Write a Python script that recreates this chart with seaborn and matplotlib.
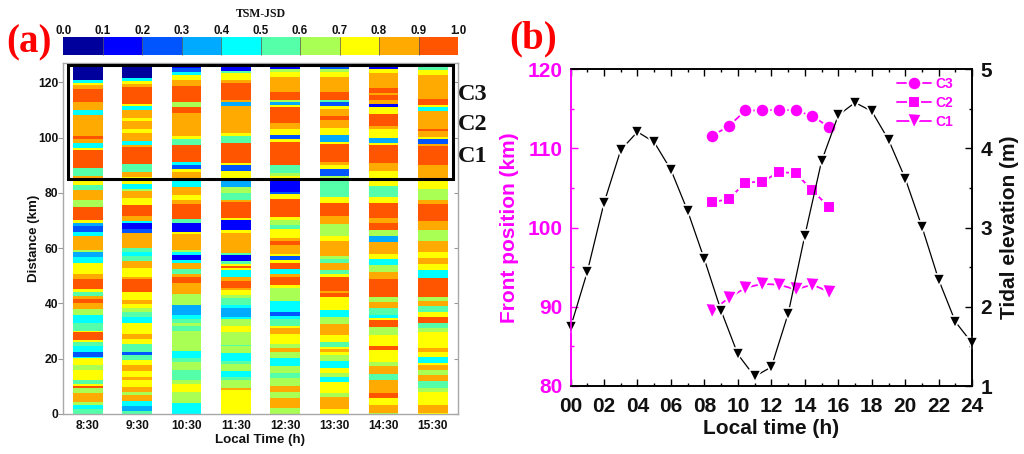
# -*- coding: utf-8 -*-
### TSM-JSD stripes along distance (a) and front position vs tide (b)

import numpy as np
import pandas as pd
import seaborn as sns
import matplotlib
matplotlib.use('Agg')
import matplotlib.pyplot as plt
from matplotlib.colors import ListedColormap
from matplotlib.patches import Rectangle

###############################################################################
### 1. Data

times = ['8:30', '9:30', '10:30', '11:30', '12:30', '13:30', '14:30', '15:30']

# every column: upper edge of each band (km, going down) and the TSM-JSD class of the band
top_0830 = [127, 121, 119.8, 119, 117.6, 113, 110, 108.2, 100.5, 99.5, 98, 96.3, 95.6, 89, 86.2, 84.2, 82.7, 81, 77.2, 75,
            70.3, 69.3, 68, 65.8, 64.6, 59.4, 58.6, 56.8, 54.4, 50.7, 48.8, 45.2, 44, 42.8, 41.7, 40, 38, 35.9, 33.1,
            30.1, 29.5, 26.7, 25.9, 24.8, 22.4, 20.8, 20.2, 17.8, 16, 12.3, 10.8, 10.3, 9.3, 7.5, 4.5, 3.3, 1.7]
val_0830 = [.05, .45, .75, .85, .95, .85, .45, .85, .95, .85, .45, .75, .95, .55, .85, .75, .55, .85, .65, .95,
            .75, .35, .25, .45, .85, .65, .35, .45, .75, .85, .95, .75, .55, .85, .95, .85, .65, .45, .55,
            .75, .95, .75, .55, .45, .25, .45, .75, .65, .75, .55, .75, .95, .65, .85, .65, .45, .55]

top_0930 = [127, 121.6, 120.4, 119.6, 118.2, 112.3, 111.6, 110, 107, 106, 102.9, 101.4, 98.7, 97.2, 96.4, 90.5, 87.4, 85.7, 83.2,
            81.4, 80.7, 78, 75.7, 71.5, 70, 69, 67, 65.5, 60, 58.8, 57, 55.5, 52.8, 49.8, 48.8, 44, 41.2, 39.8, 38.3,
            36.9, 35.3, 33.1, 29, 27.1, 25.5, 22.4, 21.4, 19.6, 17.8, 15.4, 13.3, 12.3, 9.8, 8.1, 6.7, 4.8, 2.7, 1.1]
val_0930 = [.05, .45, .75, .85, .95, .75, .45, .85, .75, .85, .75, .85, .45, .85, .95, .55, .85, .75, .45,
            .65, .85, .75, .95, .85, .45, .15, .25, .85, .55, .45, .55, .85, .75, .85, .95, .75, .85, .75, .65,
            .55, .45, .75, .85, .75, .55, .25, .55, .75, .85, .75, .85, .75, .85, .65, .85, .45, .35, .55]

top_1030 = [127, 125.2, 123.7, 122.7, 120.7, 118.6, 113, 111, 109, 100.5, 99.5, 97.6, 91.3, 90.3, 88.6, 87.4, 84.2, 82.1, 79.2,
            77.2, 76, 70.5, 69.3, 66.1, 64.9, 59.3, 58.6, 57.6, 55.8, 54.8, 52.4, 50.4, 49.4, 47.2, 43.4, 39.5, 36.1,
            34.3, 32.9, 31.9, 30.1, 22.8, 20.2, 18.7, 15.8, 12.3, 10.8, 8.1, 4]
val_1030 = [.15, .25, .45, .75, .85, .95, .65, .95, .85, .75, .55, .95, .45, .25, .75, .85, .45, .85, .75,
            .85, .95, .55, .15, .75, .85, .65, .45, .15, .45, .85, .55, .85, .95, .85, .65, .35, .45,
            .55, .65, .55, .65, .45, .55, .65, .55, .65, .75, .65, .45]

top_1130 = [127, 125.4, 124, 123.2, 120.7, 119.8, 113.5, 112.9, 111.4, 101.4, 100.5, 98, 90.8, 90, 87.8, 84.2, 82.1, 80, 77.3,
            76.7, 71.1, 70.3, 66.7, 65.6, 58.2, 57.4, 55.5, 54.3, 53.6, 52.8, 51.9, 49.8, 48.3, 45.6, 44.7, 43.1, 41.9,
            39.5, 38.5, 35.2, 34.3, 31.8, 29.6, 25, 24.4, 22.1, 19.2, 18, 15.4, 13.2, 12.2, 9.6, 8.7]
val_1130 = [.05, .15, .55, .75, .85, .95, .85, .35, .85, .75, .55, .95, .75, .25, .75, .35, .65, .55, .85,
            .95, .75, .15, .75, .85, .55, .15, .55, .75, .95, .75, .45, .85, .95, .85, .75, .65, .55,
            .45, .35, .45, .65, .75, .65, .55, .65, .45, .55, .65, .45, .55, .65, .85, .75]

top_1230 = [127, 125.8, 125, 123.7, 122, 116.5, 113.8, 113, 111.8, 111, 105.3, 103.3, 101.1, 99.4, 98.3, 90.2, 87.2, 86, 84.2,
            80.6, 79.4, 77.8, 71.3, 70.3, 68.5, 67, 63.7, 62.7, 61, 57.9, 57, 55.7, 54.8, 52.6, 50.4, 49.5, 46.8, 45.8, 41,
            36.9, 35.6, 34.4, 31.7, 31, 29, 25.6, 24, 22.4, 20.2, 17.2, 14.8, 13, 10, 8.1, 5.7, 2.3]
val_1230 = [.05, .15, .65, .75, .85, .95, .65, .35, .75, .95, .85, .75, .25, .75, .95, .55, .65, .75, .15,
            .25, .75, .95, .75, .65, .55, .75, .85, .95, .85, .75, .25, .75, .95, .45, .85, .95, .75, .65, .45,
            .25, .45, .55, .75, .85, .75, .65, .85, .65, .45, .65, .55, .65, .85, .65, .85, .65]

top_1330 = [127, 125.8, 124.8, 123.7, 122, 116.5, 113.4, 112.8, 111.4, 110.4, 108.1, 106.5, 103.5, 101.1, 98.3, 97.7, 91.2, 89.9, 88.6,
            86.2, 84.2, 78.5, 76.6, 71.5, 68.8, 67.5, 64.3, 62.5, 57, 56, 54.6, 52.2, 50.4, 49.4, 44.6, 43.7, 42.2, 37.7,
            35, 32.6, 28.6, 25.9, 24.2, 23.6, 22.4, 21.6, 19.2, 16.6, 14.8, 13.2, 11.5, 7.7, 6, 1.7]
val_1330 = [.05, .25, .65, .75, .85, .95, .55, .25, .75, .85, .95, .85, .75, .35, .75, .95, .85, .75, .25,
            .65, .55, .75, .95, .85, .65, .65, .75, .85, .65, .55, .85, .55, .75, .95, .85, .95, .75, .45,
            .65, .85, .75, .55, .75, .85, .75, .65, .45, .75, .65, .45, .75, .65, .85, .75]

top_1430 = [127, 125.6, 124.9, 123.4, 118.1, 116.2, 115.2, 113.4, 112.2, 111, 108.6, 104.3, 102.9, 100.1, 98, 97.5, 90.8, 87.8, 82.4,
            78.5, 76.3, 70.9, 69.1, 66.8, 64.5, 62.2, 57.9, 56.2, 54, 51.4, 48.9, 42.5, 40.5, 38.5, 36.1, 34.7, 34, 31.4, 28.6,
            24.4, 23, 18.7, 17.2, 14.4, 12.3, 7.8, 5.7, 3.3, 0.6]
val_1430 = [.05, .15, .75, .85, .95, .85, .95, .85, .15, .75, .95, .85, .75, .35, .75, .95, .85, .75, .55,
            .75, .95, .85, .95, .65, .35, .85, .75, .45, .65, .85, .95, .65, .85, .55, .45, .75, .95, .65, .75,
            .95, .75, .65, .85, .55, .85, .95, .75, .85, .65]

top_1530 = [127, 125.4, 124.5, 122.6, 114.1, 111.8, 111, 109.7, 102.9, 102.3, 100.2, 99.5, 97.8, 96.9, 90.2, 84.2, 83.2, 81.4, 77.5,
            76, 70, 66.7, 62.5, 58.6, 56.4, 54.2, 52, 49.2, 42.5, 40.7, 39.2, 36.9, 34.9, 33.1, 31, 29.6, 23.8, 22.4, 20.8,
            18.4, 17.8, 16, 13.9, 12.1, 9.3, 8.1, 3.3, 0.6]
val_1530 = [.05, .55, .75, .85, .95, .75, .45, .85, .95, .85, .75, .25, .85, .95, .85, .75, .75, .65, .85,
            .95, .85, .65, .85, .75, .85, .75, .45, .95, .65, .85, .55, .75, .95, .55, .65, .75, .85, .75, .45,
            .75, .85, .65, .85, .55, .65, .75, .85, .75]

jsd_tops = [top_0830, top_0930, top_1030, top_1130, top_1230, top_1330, top_1430, top_1530]
jsd_vals = [val_0830, val_0930, val_1030, val_1130, val_1230, val_1330, val_1430, val_1530]

jsd_colors = ['#00009C', '#0000FF', '#0055FF', '#00AAFF', '#00FFFF',
              '#55FFAA', '#AAFF55', '#FFFF00', '#FFAA00', '#FF5500']

# panel b
front_time = [8.45, 9.45, 10.45, 11.45, 12.45, 13.45, 14.45, 15.45]
front_c3 = [111.6, 112.8, 114.8, 114.8, 114.9, 114.8, 114.1, 112.7]
front_c2 = [103.2, 103.6, 105.7, 105.8, 107.0, 106.9, 104.7, 102.6]
front_c1 = [89.5, 91.1, 92.4, 92.9, 92.8, 92.2, 92.8, 91.9]

tide_hour = list(range(25))
tide_elev = [1.74, 2.44, 3.31, 3.98, 4.21, 4.08, 3.73, 3.21, 2.60, 1.95, 1.40, 1.12, 1.24,
             1.91, 2.90, 3.84, 4.42, 4.58, 4.47, 4.11, 3.62, 3.01, 2.34, 1.81, 1.54]

###############################################################################
### 2. Figure

sns.set_theme(style='white')
plt.rcParams['font.family'] = ['Liberation Sans', 'DejaVu Sans']
plt.rcParams['font.weight'] = 'bold'
plt.rcParams['axes.labelweight'] = 'bold'

W, H = 1024, 454
fig = plt.figure(figsize=(W / 100, H / 100), dpi=100)


def box(x0, y0, x1, y1):
    # pixels of the picture, y going down
    return [x0 / W, (H - y1) / H, (x1 - x0) / W, (y1 - y0) / H]


ax_a = fig.add_axes(box(63.3, 63, 457.5, 414))
cax = fig.add_axes(box(63.3, 37.3, 458, 55))
ax_b = fig.add_axes(box(570.5, 69.3, 972.2, 386))

### panel a: 4 rows per km, 3 cells of stripe and 2 of gap per time
per_km = 4
n_rows = 127 * per_km
grid = np.full((n_rows, 40), np.nan)
for i in range(len(times)):
    column = np.zeros(n_rows)
    for top, val in zip(jsd_tops[i], jsd_vals[i]):
        column[:int(round(top * per_km))] = val
    grid[:, 1 + 5 * i:4 + 5 * i] = column[:, None]

sns.heatmap(grid, ax=ax_a, cmap=ListedColormap(jsd_colors), vmin=0, vmax=1,
            cbar_ax=cax, xticklabels=False, yticklabels=False,
            cbar_kws={'orientation': 'horizontal', 'boundaries': np.arange(0, 1.01, 0.1),
                      'ticks': np.arange(0, 1.01, 0.1), 'drawedges': True, 'format': '%.1f'})
ax_a.set_ylim(0, n_rows)
ax_a.set_xticks([2.5 + 5 * i for i in range(len(times))])
ax_a.set_xticklabels(times, fontsize=8.6, fontweight='bold', color='#111111', rotation=0)
ax_a.set_yticks([km * per_km for km in range(0, 121, 20)])
ax_a.set_yticklabels(range(0, 121, 20), fontsize=8.7, fontweight='bold', color='#111111', rotation=0)
ax_a.tick_params(axis='y', length=3.5, width=0.8, color='#999999', pad=0, left=True)
ax_a.tick_params(axis='x', length=0, pad=4.5)
ax_a.set_xlabel('Local Time (h)', fontsize=9.6, labelpad=1, color='#111111')
ax_a.set_ylabel('Distance (km)', fontsize=9.6, labelpad=-1, color='#111111')
for spine in ax_a.spines.values():
    spine.set_visible(True)
    spine.set_color('#a8a8a8')
    spine.set_linewidth(1.0)

side = ax_a.secondary_yaxis('right')
side.set_yticks(ax_a.get_yticks())
side.set_yticklabels([])
side.tick_params(direction='in', length=3, width=0.8, color='#999999')
side.spines['right'].set_visible(False)

ax_a.add_patch(Rectangle((0.5, 85.1 * per_km), 39, 41 * per_km, fill=False, edgecolor='black',
                         linewidth=2.2, clip_on=False, zorder=5))

cbar = ax_a.collections[0].colorbar
cbar.dividers.set_color('#555555')
cbar.dividers.set_linewidth(0.5)
cbar.outline.set_edgecolor('#999999')
cax.xaxis.set_ticks_position('top')
cax.tick_params(axis='x', length=0, pad=0, labelsize=8.3, labelcolor='#111111')

serif = ['Liberation Serif', 'DejaVu Serif']
fig.text(261 / W, 1 - 14 / H, 'TSM-JSD', family=serif, fontsize=8.5, fontweight='bold',
         ha='center', va='center', color='#111111')
for label, ypx in zip(['C3', 'C2', 'C1'], [95, 124, 156]):
    fig.text(458 / W, 1 - ypx / H, label, family=serif, fontsize=17.5, fontweight='bold',
             ha='left', va='center', color='#111111')
fig.text(6 / W, 1 - 43 / H, '(a)', family=serif, fontsize=28, fontweight='bold', ha='left', va='center', color='#ff0000')
fig.text(509 / W, 1 - 39 / H, '(b)', family=serif, fontsize=28, fontweight='bold', ha='left', va='center', color='#ff0000')

### panel b
magenta = '#ff00ff'
fronts = pd.DataFrame({'time': front_time, 'C3': front_c3, 'C2': front_c2, 'C1': front_c1})
for name, mark, size in [('C3', 'o', 9.8), ('C2', 's', 8.8), ('C1', 'v', 10.8)]:
    sns.lineplot(data=fronts, x='time', y=name, ax=ax_b, color=magenta, marker=mark, markersize=size,
                 markeredgecolor='white', markeredgewidth=1.5, linewidth=1.3, label=name, errorbar=None)

ax_b.set_xlim(0, 24)
ax_b.set_ylim(80, 120)
ax_b.set_xticks(range(0, 25, 2))
ax_b.set_xticklabels(['%02d' % h for h in range(0, 25, 2)], fontsize=15, fontweight='bold', color='#111111')
ax_b.set_xticks(range(1, 24, 2), minor=True)
ax_b.set_yticks(range(80, 121, 10))
ax_b.set_yticklabels(range(80, 121, 10), fontsize=15, fontweight='bold', color=magenta)
ax_b.set_yticks(range(85, 120, 10), minor=True)
ax_b.tick_params(axis='x', which='major', direction='in', top=True, bottom=True, length=5, width=1.0, color='black', pad=8)
ax_b.tick_params(axis='x', which='minor', direction='in', top=True, bottom=True, length=2.5, width=1.0, color='black')
ax_b.tick_params(axis='y', which='major', direction='in', left=True, length=5, width=1.0, color=magenta, pad=6)
ax_b.tick_params(axis='y', which='minor', direction='in', left=True, length=2.5, width=1.0, color=magenta)
ax_b.set_xlabel('Local time (h)', fontsize=15, labelpad=2, color='#111111')
ax_b.set_ylabel('Front position (km)', fontsize=15, labelpad=6, color=magenta)

ax_t = ax_b.twinx()
sns.lineplot(x=tide_hour, y=tide_elev, ax=ax_t, color='black', marker='v', markersize=8,
             markeredgecolor='white', markeredgewidth=1.2, linewidth=0.9, errorbar=None, clip_on=False)
ax_t.set_ylim(1, 5)
ax_t.set_yticks(range(1, 6))
ax_t.set_yticklabels(range(1, 6), fontsize=15, fontweight='bold', color='#111111')
ax_t.set_yticks(np.arange(1.5, 5, 1), minor=True)
ax_t.tick_params(axis='y', which='major', direction='in', right=True, length=5, width=1.0, color='black', pad=6)
ax_t.tick_params(axis='y', which='minor', direction='in', right=True, length=2.5, width=1.0, color='black')
ax_t.set_ylabel('Tidal elevation (m)', fontsize=15, labelpad=5.5, color='#111111')

for axis in [ax_b, ax_t]:
    for where, spine in axis.spines.items():
        spine.set_visible(True)
        spine.set_linewidth(1.2)
        spine.set_color(magenta if where == 'left' else 'black')

leg = ax_b.legend(loc='upper right', bbox_to_anchor=(0.952, 0.976), frameon=False, fontsize=10,
                  handlelength=2.45, labelspacing=0.37, handletextpad=0.3, borderpad=0, borderaxespad=0)
for txt in leg.get_texts():
    txt.set_color(magenta)
    txt.set_fontweight('bold')
for handle in leg.get_lines():
    handle.set_markeredgecolor('white')

fig.savefig('out.png', dpi=100)
